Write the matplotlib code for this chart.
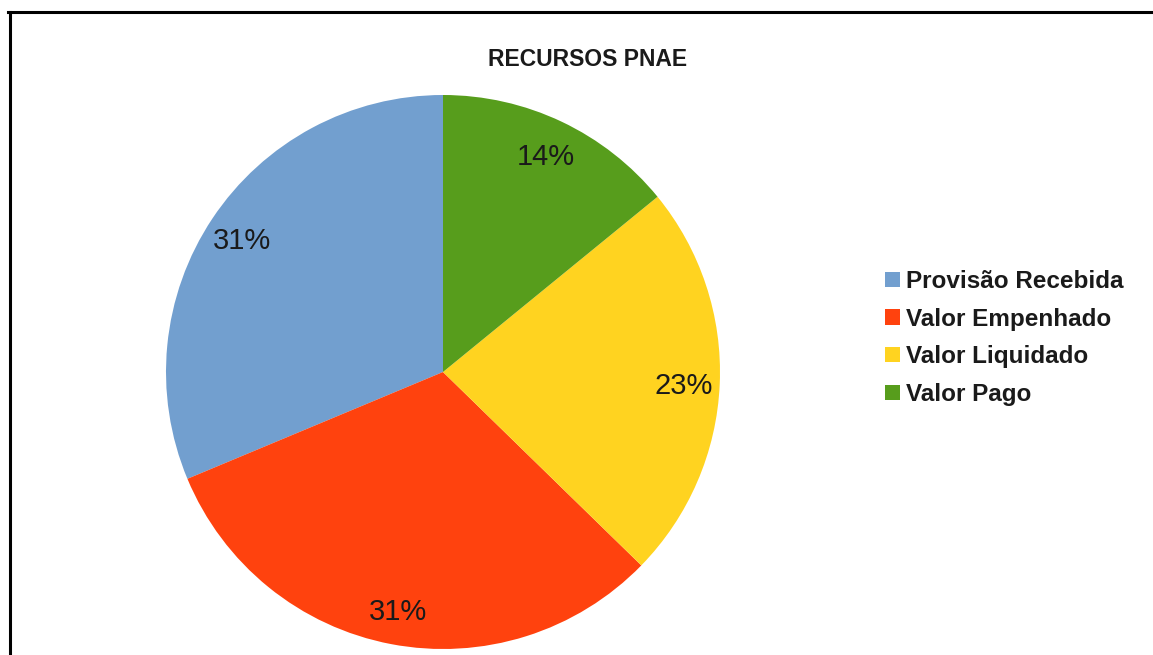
import matplotlib
matplotlib.use("Agg")
import matplotlib.pyplot as plt
from matplotlib.patches import Patch
from matplotlib.lines import Line2D

# dados
categorias = ["Provisão Recebida", "Valor Empenhado", "Valor Liquidado", "Valor Pago"]
valores = [31.3, 31.4, 23.2, 14.1]
cores = ["#729fcf", "#ff420e", "#ffd320", "#579d1c"]
titulo = "RECURSOS PNAE"

plt.rcParams['font.family'] = ['Liberation Sans', 'DejaVu Sans']

W, H = 1153, 655
fig = plt.figure(figsize=(W / 100, H / 100), dpi=100)
fig.patch.set_facecolor("white")

# eixo do grafico (centro ~ (443, 372), raio ~277 px)
cx, cy, r = 443, 372, 277
ax = fig.add_axes([(cx - r) / W, (H - cy - r) / H, 2 * r / W, 2 * r / H])
wedges, texts, autotexts = ax.pie(valores, colors=cores, startangle=90, counterclock=True,
       autopct='%.0f%%', pctdistance=0.87, radius=1.0,
       textprops=dict(fontsize=21, color="#1a1a1a"),
       wedgeprops=dict(linewidth=0))
for t in autotexts:
	t.set_va('center_baseline')
ax.set_xlim(-1, 1)
ax.set_ylim(-1, 1)
ax.set_aspect('equal')
ax.axis('off')

fig.text(588 / W, 1 - 60 / H, titulo, ha='center', va='center',
         fontsize=16.5, fontweight='bold', color="#1a1a1a")

handles = [Patch(facecolor=c, edgecolor='none') for c in cores]
fig.legend(handles, categorias, loc='center left',
           bbox_to_anchor=(885 / W, 1 - 338 / H), frameon=False,
           borderpad=0, borderaxespad=0, handlelength=0.6, handleheight=0.6,
           handletextpad=0.25, labelspacing=0.6,
           prop=dict(size=17.5, weight='bold'), labelcolor="#1a1a1a")

# moldura (so esquerda e topo aparecem)
fig.add_artist(Line2D([9.5 / W, 9.5 / W], [0, 1 - 11.5 / H], color='black',
                      linewidth=2.2, transform=fig.transFigure))
fig.add_artist(Line2D([8 / W, 1], [1 - 11.5 / H, 1 - 11.5 / H], color='black',
                      linewidth=2.2, transform=fig.transFigure))

fig.savefig("out.png", dpi=100, facecolor="white")
